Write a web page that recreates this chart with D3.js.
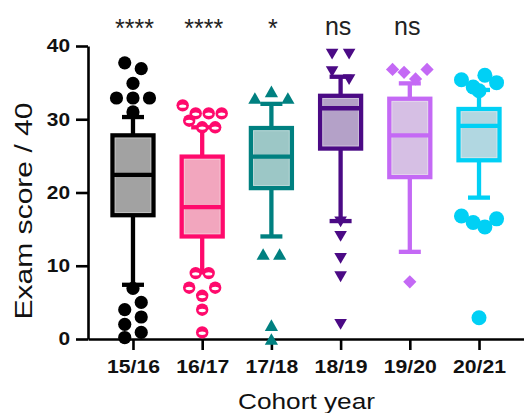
<!DOCTYPE html>
<html>
<head>
<meta charset="utf-8">
<script src="https://cdn.jsdelivr.net/npm/d3@7"></script>
<style>
  html, body { margin: 0; padding: 0; background: #fff; }
  svg { display: block; }
</style>
</head>
<body>
<svg id="chart" width="524" height="413"></svg>
<script>
// ---------------- data ----------------
const categories  = ["15/16", "16/17", "17/18", "18/19", "19/20", "20/21"];
const q1          = [16.9, 14.0, 20.6, 26.0, 22.1, 24.4];
const median      = [22.4, 18.0, 24.9, 31.5, 27.8, 29.1];
const q3          = [27.8, 24.9, 28.8, 33.2, 32.8, 31.4];
const whiskerLow  = [7.4, 9.1, 14.0, 16.1, 11.9, 19.3];
const whiskerHigh = [30.3, 28.9, 32.1, 35.8, 34.9, 34.0];
const outliers1516 = [37.7, 36.9, 34.9, 32.9, 32.9, 32.9, 31.0, 6.9, 4.0, 5.0, 2.0, 3.0, 0.2, 0.9];
const outliers1617 = [31.9, 30.8, 30.8, 30.8, 29.8, 28.9, 28.9, 9.0, 9.0, 7.0, 5.9, 7.0, 4.0, 0.9];
const outliers1718 = [32.9, 33.8, 32.9, 11.6, 11.6, 1.9, 0.0];
const outliers1819 = [38.9, 38.9, 36.5, 35.4, 16.0, 14.0, 11.0, 8.5, 2.0];
const outliers1920 = [36.8, 36.4, 35.5, 36.8, 7.8];
const outliers2021 = [35.4, 34.4, 36.0, 35.0, 33.9, 16.8, 15.9, 15.3, 16.4, 2.9];
const outliers = [outliers1516, outliers1617, outliers1718, outliers1819, outliers1920, outliers2021];
const significance = ["****", "****", "*", "ns", "ns", ""];
const yTicks = [0, 10, 20, 30, 40];
const yTitle = "Exam score / 40";
const xTitle = "Cohort year";

// ---------------- styles ----------------
const strokeColors = ["#000000", "#ff0a6c", "#008080", "#4b0a85", "#c469f5", "#00d0f5"];
const fillColors   = ["#a2a2a2", "#f2a6be", "#9cc7c6", "#b4a1c8", "#d6bfe4", "#b1d7e1"];
const markerTypes  = ["disc", "bandDisc", "triUp", "triDown", "diamond", "bigDisc"];
const laneSpacing  = [16.5, 13, 16.5, 17, 11.5, 11.7];
const rowHeight = 12.5;
const lineW = 4.3;

const svg = d3.select("#chart");
const x = d3.scalePoint().domain(categories).range([88, 524]).padding(0.65);
const y = d3.scaleLinear().domain([0, 40]).range([339, 46]);

function stretch(sel, f) {
  sel.each(function () {
    const L = this.getComputedTextLength();
    this.setAttribute("textLength", L * f);
    this.setAttribute("lengthAdjust", "spacingAndGlyphs");
  });
}

// ---------------- boxes ----------------
const boxW = 41;
const capW = 22;
const gBoxes = svg.append("g");
categories.forEach((c, i) => {
  const cx = x(c);
  const g = gBoxes.append("g");
  const col = strokeColors[i];
  // whiskers
  g.append("line").attr("x1", cx).attr("x2", cx).attr("y1", y(whiskerLow[i])).attr("y2", y(q1[i]))
    .attr("stroke", col).attr("stroke-width", lineW);
  g.append("line").attr("x1", cx).attr("x2", cx).attr("y1", y(whiskerHigh[i])).attr("y2", y(q3[i]))
    .attr("stroke", col).attr("stroke-width", lineW);
  // caps
  [whiskerLow[i], whiskerHigh[i]].forEach(v => {
    g.append("line").attr("x1", cx - capW / 2).attr("x2", cx + capW / 2).attr("y1", y(v)).attr("y2", y(v))
      .attr("stroke", col).attr("stroke-width", lineW);
  });
  // box
  g.append("rect").attr("x", cx - boxW / 2).attr("width", boxW)
    .attr("y", y(q3[i])).attr("height", y(q1[i]) - y(q3[i]))
    .attr("fill", fillColors[i]).attr("stroke", col).attr("stroke-width", lineW);
  // subtle inner light edge
  g.append("rect").attr("x", cx - boxW / 2 + lineW / 2 + 0.5).attr("width", boxW - lineW - 1)
    .attr("y", y(q3[i]) + lineW / 2 + 0.5).attr("height", y(q1[i]) - y(q3[i]) - lineW - 1)
    .attr("fill", "none").attr("stroke", "#ffffff").attr("stroke-opacity", 0.35).attr("stroke-width", 1);
  // median
  g.append("line").attr("x1", cx - boxW / 2).attr("x2", cx + boxW / 2)
    .attr("y1", y(median[i])).attr("y2", y(median[i]))
    .attr("stroke", col).attr("stroke-width", lineW);
});

// ---------------- axes ----------------
const yAxis = svg.append("g").attr("transform", "translate(88,0)")
  .call(d3.axisLeft(y).tickValues(yTicks).tickSize(12).tickSizeOuter(0).tickPadding(6));
const xAxis = svg.append("g").attr("transform", "translate(0,339)")
  .call(d3.axisBottom(x).tickSize(11).tickSizeOuter(0).tickPadding(10));
[yAxis, xAxis].forEach(a => {
  a.select(".domain").attr("stroke", "#000").attr("stroke-width", 2.6);
  a.selectAll(".tick line").attr("stroke", "#000").attr("stroke-width", 2.6);
  a.selectAll(".tick text").attr("fill", "#111").attr("font-family", "Liberation Sans, Arial, sans-serif")
    .attr("font-weight", "bold").attr("font-size", 18.5);
});
stretch(yAxis.selectAll(".tick text"), 1.13);
stretch(xAxis.selectAll(".tick text"), 1.145);

// ---------------- outlier points (row-binned lanes) ----------------
function laneLayout(values, spacing) {
  const rows = [];
  let cur = null;
  values.forEach(v => {
    const py = y(v);
    if (cur) {
      const lo = Math.min(cur.min, py), hi = Math.max(cur.max, py);
      if (hi - lo < rowHeight) { cur.items.push({ v, py }); cur.min = lo; cur.max = hi; return; }
    }
    cur = { items: [{ v, py }], min: py, max: py };
    rows.push(cur);
  });
  const out = [];
  rows.forEach(r => {
    const n = r.items.length;
    r.items.forEach((it, k) => out.push({ v: it.v, dx: (k - (n - 1) / 2) * spacing, py: it.py }));
  });
  return out;
}

function drawMarker(g, type, col) {
  if (type === "disc") g.append("circle").attr("r", 6.6).attr("fill", col);
  else if (type === "bigDisc") g.append("circle").attr("r", 7.5).attr("fill", col);
  else if (type === "bandDisc") {
    g.append("circle").attr("r", 6.2).attr("fill", col);
    g.append("ellipse").attr("cx", 0).attr("cy", 0.8).attr("rx", 3.6).attr("ry", 1.7).attr("fill", "#fff");
  } else if (type === "triUp") g.append("path").attr("d", "M0,-5.8L6.6,5.8L-6.6,5.8Z").attr("fill", col);
  else if (type === "triDown") g.append("path").attr("d", "M0,5.4L6.3,-5.4L-6.3,-5.4Z").attr("fill", col);
  else if (type === "diamond") g.append("path").attr("d", "M0,-6.6L6.6,0L0,6.6L-6.6,0Z").attr("fill", col);
}

const gPts = svg.append("g");
categories.forEach((c, i) => {
  laneLayout(outliers[i], laneSpacing[i]).forEach(p => {
    const g = gPts.append("g").attr("transform", `translate(${x(c) + p.dx},${p.py})`);
    drawMarker(g, markerTypes[i], strokeColors[i]);
  });
});

// ---------------- significance labels ----------------
svg.append("g").selectAll("text").data(categories).join("text")
  .attr("x", d => x(d) + (significance[categories.indexOf(d)] === "ns" ? -2.5 : 1.5))
  .attr("y", d => significance[categories.indexOf(d)] === "ns" ? 35 : 37)
  .attr("text-anchor", "middle")
  .attr("font-family", "Liberation Sans, Arial, sans-serif")
  .attr("font-size", 25)
  .attr("fill", "#222")
  .text((d, i) => significance[i]);

// ---------------- titles ----------------
const xt = svg.append("text").attr("x", 306.5).attr("y", 409).attr("text-anchor", "middle")
  .attr("font-family", "Liberation Sans, Arial, sans-serif").attr("font-size", 22)
  .attr("font-weight", 500).attr("fill", "#111").text(xTitle);
xt.attr("textLength", 137).attr("lengthAdjust", "spacingAndGlyphs");

const yt = svg.append("text").attr("transform", "translate(31.5,211) rotate(-90)")
  .attr("text-anchor", "middle")
  .attr("font-family", "Liberation Sans, Arial, sans-serif").attr("font-size", 23)
  .attr("fill", "#111").text(yTitle);
yt.attr("textLength", 217).attr("lengthAdjust", "spacingAndGlyphs");
</script>
</body>
</html>
